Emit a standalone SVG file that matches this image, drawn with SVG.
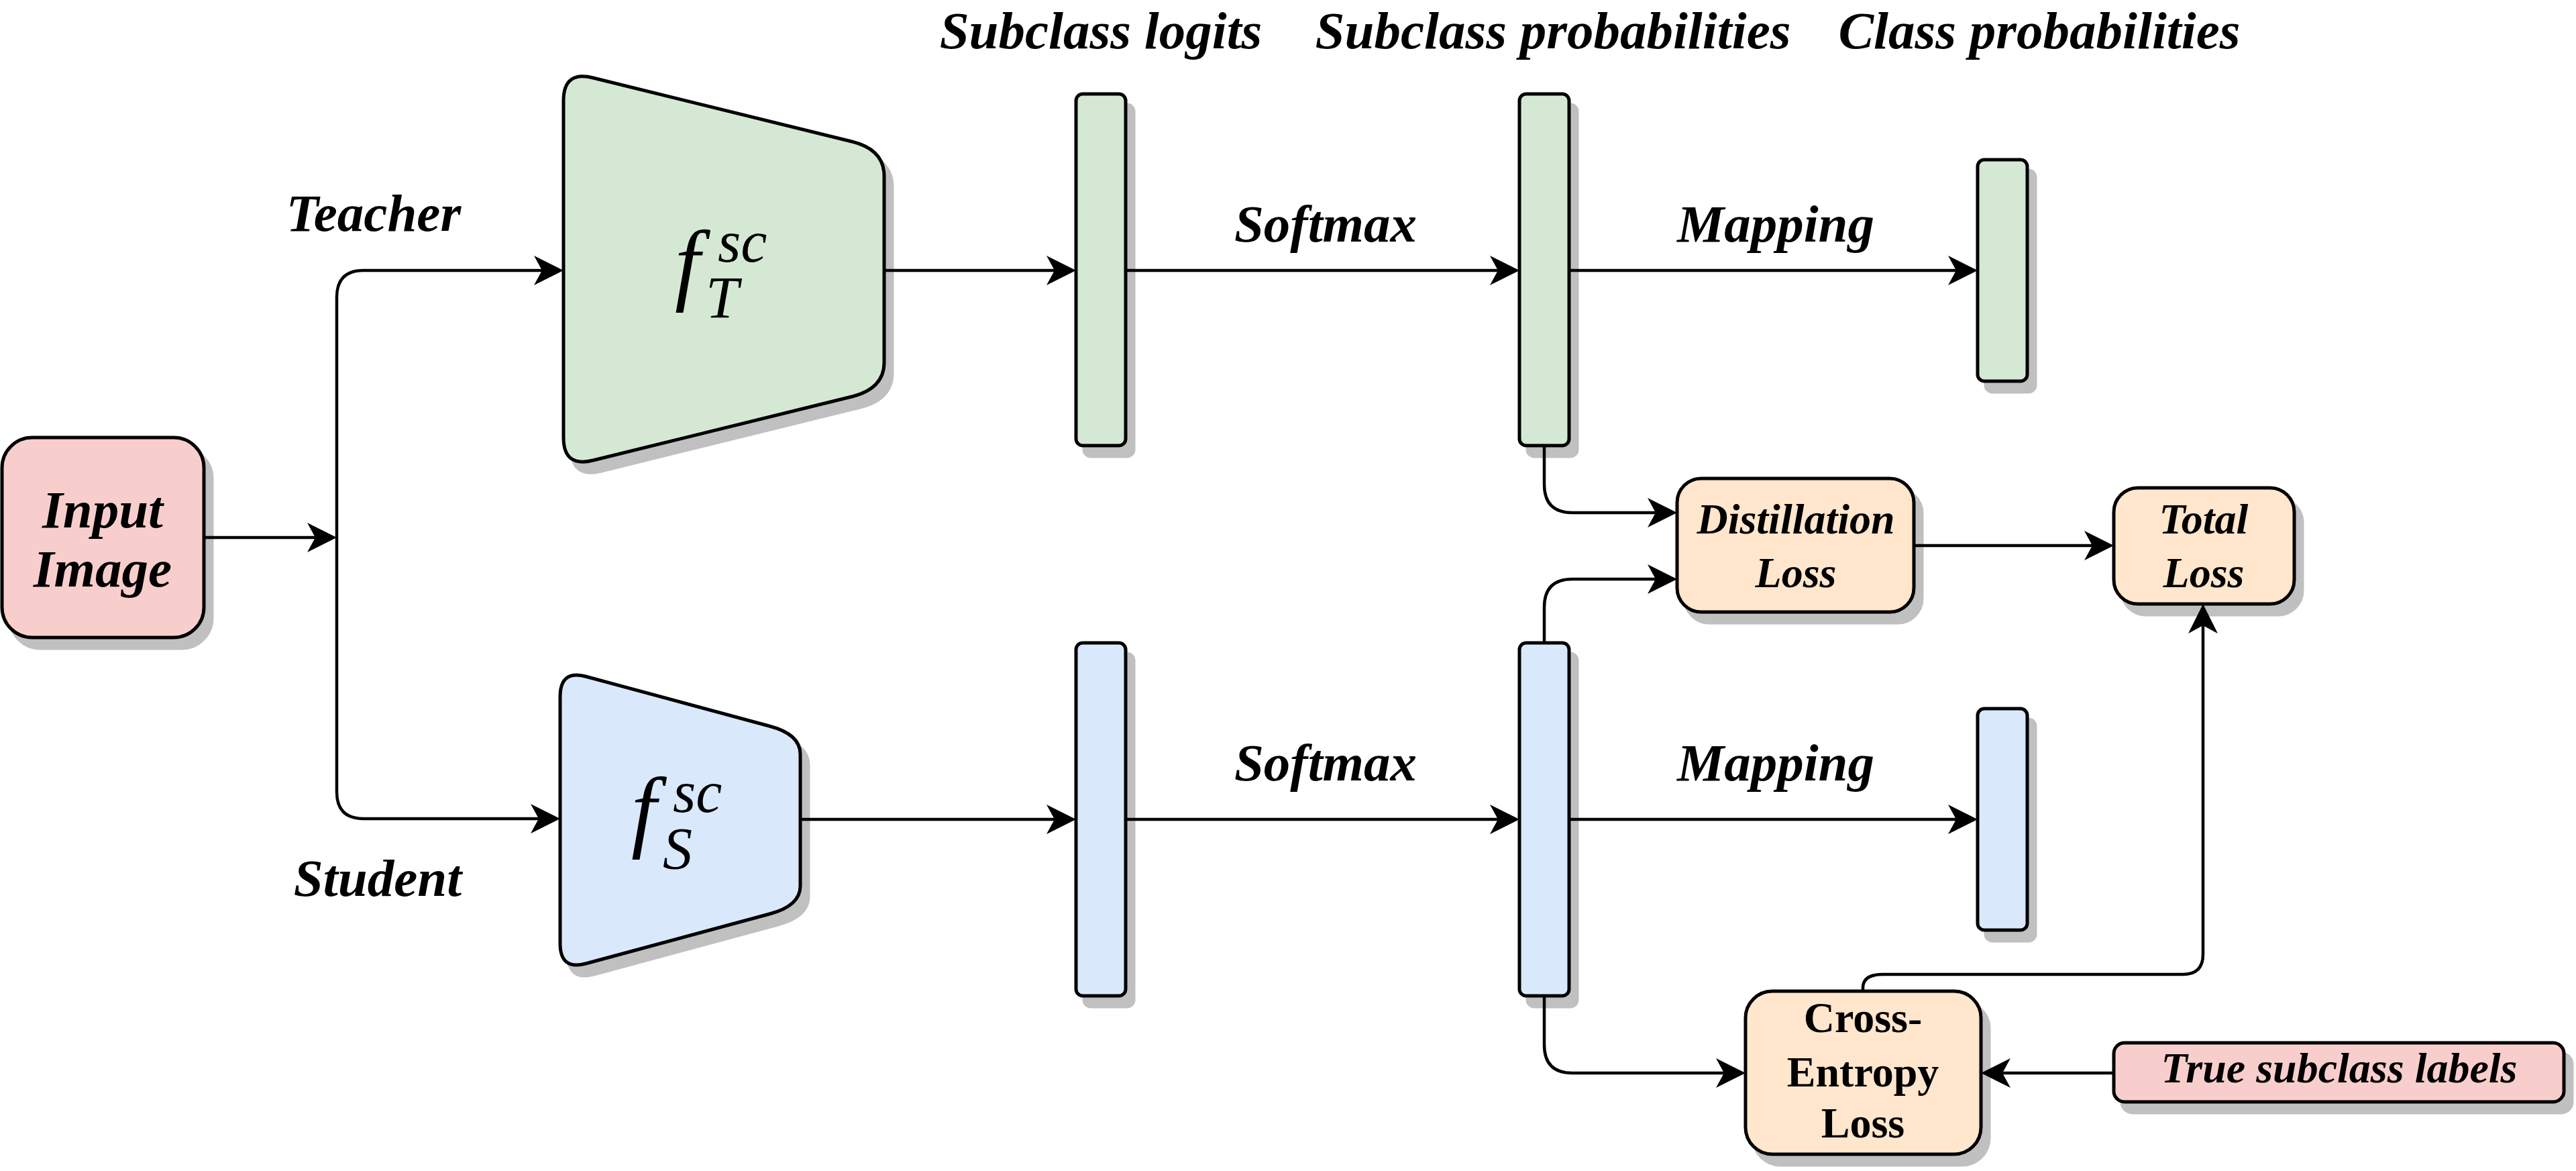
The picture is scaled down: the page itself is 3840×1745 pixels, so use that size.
<svg xmlns="http://www.w3.org/2000/svg" width="3840" height="1745" viewBox="0 0 3840 1745">
<style>
  .shape { stroke: #000; stroke-width: 5; stroke-linejoin: round; }
  .shadow { fill: #c0c0c0; stroke: #c0c0c0; stroke-width: 5; stroke-linejoin: round; }
  .green { fill: #d5e8d4; }
  .blue { fill: #dae8fc; }
  .pink { fill: #f8cecc; }
  .orange { fill: #ffe6cc; }
  .lbl { font-family: "Liberation Serif", "Times New Roman", serif; font-weight: bold; font-style: italic; text-anchor: middle; fill: #000; }
  .big { font-size: 79px; }
  .small { font-size: 64px; }
  .ce { font-family: "Liberation Serif", "Times New Roman", serif; font-weight: bold; font-size: 64px; text-anchor: middle; fill: #000; }
  .math { font-family: "Liberation Serif", "Times New Roman", serif; font-style: italic; fill: #000; }
  .edge { fill: none; stroke: #000; stroke-width: 4.5; marker-end: url(#arrow); }
</style>
<defs>
  <marker id="arrow" viewBox="0 0 44 44" refX="14" refY="22" markerWidth="44" markerHeight="44" markerUnits="userSpaceOnUse" orient="auto">
    <path d="M0,0 L44,22 L0,44 L12,22 Z" fill="#000"/>
  </marker>
</defs>
<rect width="3840" height="1745" fill="#fff"/>

<!-- Header labels -->
<g id="headers">
  <text class="lbl big" x="1641" y="72">Subclass logits</text>
  <text class="lbl big" x="2315" y="72">Subclass probabilities</text>
  <text class="lbl big" x="3040" y="72">Class probabilities</text>
</g>

<!-- Edge labels -->
<g id="edge-labels">
  <text class="lbl big" x="557" y="344">Teacher</text>
  <text class="lbl big" x="563" y="1335">Student</text>
  <text class="lbl big" x="1976" y="360">Softmax</text>
  <text class="lbl big" x="2647" y="360">Mapping</text>
  <text class="lbl big" x="1976" y="1163">Softmax</text>
  <text class="lbl big" x="2647" y="1163">Mapping</text>
</g>

<!-- Input Image -->
<g id="input-image">
  <rect class="shadow" x="15" y="668" width="301" height="298" rx="45"/>
  <rect class="shape pink" x="3" y="652" width="301" height="298" rx="45"/>
  <text class="lbl big" x="153" y="786">Input</text>
  <text class="lbl big" x="153" y="874">Image</text>
</g>

<!-- Teacher network -->
<g id="teacher">
  <path class="shadow" transform="translate(12,16)" d="M840,150 Q840,105 884,116 L1270,211 Q1318,223 1318,262 L1318,540 Q1318,579 1270,591 L884,686 Q840,697 840,652 Z"/>
  <path class="shape green" d="M840,150 Q840,105 884,116 L1270,211 Q1318,223 1318,262 L1318,540 Q1318,579 1270,591 L884,686 Q840,697 840,652 Z"/>
  <text class="math" x="1006" y="437" font-size="135">f</text>
  <text class="math" x="1070" y="390" font-size="88">sc</text>
  <text class="math" x="1052" y="473" font-size="88">T</text>
</g>

<!-- Student network -->
<g id="student">
  <path class="shadow" transform="translate(12,16)" d="M835,1038 Q835,998 873,1008 L1147,1082 Q1193,1094 1193,1124 L1193,1320 Q1193,1350 1147,1362 L873,1436 Q835,1446 835,1406 Z"/>
  <path class="shape blue" d="M835,1038 Q835,998 873,1008 L1147,1082 Q1193,1094 1193,1124 L1193,1320 Q1193,1350 1147,1362 L873,1436 Q835,1446 835,1406 Z"/>
  <text class="math" x="941" y="1252" font-size="135">f</text>
  <text class="math" x="1003" y="1210" font-size="88">sc</text>
  <text class="math" x="988" y="1294" font-size="88">S</text>
</g>

<!-- Teacher bars -->
<g id="teacher-logits">
  <rect class="shadow" x="1616" y="156" width="74" height="524" rx="10"/>
  <rect class="shape green" x="1604" y="140" width="74" height="524" rx="10"/>
</g>
<g id="teacher-subclass-probs">
  <rect class="shadow" x="2277" y="156" width="74" height="524" rx="10"/>
  <rect class="shape green" x="2265" y="140" width="74" height="524" rx="10"/>
</g>
<g id="teacher-class-probs">
  <rect class="shadow" x="2960" y="254" width="74" height="330" rx="10"/>
  <rect class="shape green" x="2948" y="238" width="74" height="330" rx="10"/>
</g>

<!-- Student bars -->
<g id="student-logits">
  <rect class="shadow" x="1616" y="974" width="74" height="526" rx="10"/>
  <rect class="shape blue" x="1604" y="958" width="74" height="526" rx="10"/>
</g>
<g id="student-subclass-probs">
  <rect class="shadow" x="2277" y="974" width="74" height="526" rx="10"/>
  <rect class="shape blue" x="2265" y="958" width="74" height="526" rx="10"/>
</g>
<g id="student-class-probs">
  <rect class="shadow" x="2960" y="1072" width="74" height="330" rx="10"/>
  <rect class="shape blue" x="2948" y="1056" width="74" height="330" rx="10"/>
</g>

<!-- Distillation Loss -->
<g id="distillation-loss">
  <rect class="shadow" x="2512" y="729" width="353" height="199" rx="36"/>
  <rect class="shape orange" x="2500" y="713" width="353" height="199" rx="36"/>
  <text class="lbl small" x="2677" y="795">Distillation</text>
  <text class="lbl small" x="2677" y="875">Loss</text>
</g>

<!-- Total Loss -->
<g id="total-loss">
  <rect class="shadow" x="3163" y="743" width="269" height="173" rx="36"/>
  <rect class="shape orange" x="3151" y="727" width="269" height="173" rx="36"/>
  <text class="lbl small" x="3285" y="795">Total</text>
  <text class="lbl small" x="3285" y="875">Loss</text>
</g>

<!-- Cross-Entropy Loss -->
<g id="cross-entropy-loss">
  <rect class="shadow" x="2614" y="1493" width="351" height="243" rx="40"/>
  <rect class="shape orange" x="2602" y="1477" width="351" height="243" rx="40"/>
  <text class="ce" x="2777" y="1538">Cross-</text>
  <text class="ce" x="2777" y="1619">Entropy</text>
  <text class="ce" x="2777" y="1695">Loss</text>
</g>

<!-- True subclass labels -->
<g id="true-subclass-labels">
  <rect class="shadow" x="3163" y="1570" width="671" height="88" rx="16"/>
  <rect class="shape pink" x="3151" y="1554" width="671" height="88" rx="16"/>
  <text class="lbl small" x="3487" y="1613">True subclass labels</text>
</g>

<!-- Connectors -->
<g id="connectors">
  <path class="edge" d="M304,801 H472"/>
  <path class="edge" d="M502,801 V443 Q502,403 542,403 H810"/>
  <path class="edge" d="M502,801 V1180 Q502,1220 542,1220 H805"/>
  <path class="edge" d="M1318,403 H1574"/>
  <path class="edge" d="M1678,403 H2235"/>
  <path class="edge" d="M2339,403 H2918"/>
  <path class="edge" d="M1193,1221 H1574"/>
  <path class="edge" d="M1678,1221 H2235"/>
  <path class="edge" d="M2339,1221 H2918"/>
  <path class="edge" d="M2302,664 V722 Q2302,764 2344,764 H2470"/>
  <path class="edge" d="M2302,958 V905 Q2302,863 2344,863 H2470"/>
  <path class="edge" d="M2853,813 H3121"/>
  <path class="edge" d="M2302,1484 V1557 Q2302,1599 2344,1599 H2572"/>
  <path class="edge" d="M3151,1599 H2983"/>
  <path class="edge" d="M2777,1477 V1472 Q2777,1452 2807,1452 H3254 Q3284,1452 3284,1422 V930"/>
</g>
</svg>
